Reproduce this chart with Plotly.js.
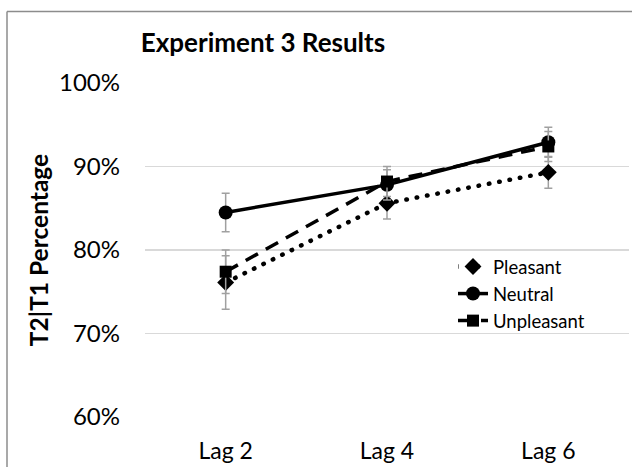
<!DOCTYPE html>
<html>
<head>
<meta charset="utf-8">
<script src="https://cdn.plot.ly/plotly-3.0.1.min.js"></script>
<style>
html,body{margin:0;padding:0;background:#fff;}
#chart{width:632px;height:467px;}
.scatterlayer .trace:first-child .js-line{stroke-linecap:round;}
</style>
</head>
<body>
<div id="chart"></div>
<script>
const categories = ["Lag 2", "Lag 4", "Lag 6"];
const seriesNames = ["Pleasant", "Neutral", "Unpleasant"];
const pleasant = [0.761, 0.856, 0.893];
const neutral = [0.845, 0.878, 0.929];
const unpleasant = [0.774, 0.882, 0.924];
const pleasantErr = [0.032, 0.019, 0.019];
const neutralErr = [0.023, 0.018, 0.018];
const unpleasantErr = [0.026, 0.018, 0.018];
const yTicks = [0.6, 0.7, 0.8, 0.9, 1.0];
const yTickLabels = ["60%", "70%", "80%", "90%", "100%"];

const font = "Lato, 'Open Sans', sans-serif";
const errStyle = {type: "data", visible: true, color: "#a0a0a0", thickness: 1.5, width: 4};

const traces = [
  {x: categories, y: pleasant, name: seriesNames[0], mode: "lines+markers",
   line: {color: "#000", width: 4.5, dash: "0.5px,10px"},
   marker: {symbol: "diamond", size: 13, color: "#000"},
   error_y: Object.assign({array: pleasantErr}, errStyle)},
  {x: categories, y: neutral, name: seriesNames[1], mode: "lines+markers",
   line: {color: "#000", width: 3.5},
   marker: {symbol: "circle", size: 14, color: "#000"},
   error_y: Object.assign({array: neutralErr}, errStyle)},
  {x: categories, y: unpleasant, name: seriesNames[2], mode: "lines+markers",
   line: {color: "#000", width: 3.5, dash: "14px,9px"},
   marker: {symbol: "square", size: 12, color: "#000"},
   error_y: Object.assign({array: unpleasantErr}, errStyle)}
];

const px2x = p => (p - 145) / 484;
const px2y = p => (416.7 - p) / 333.4;

const layout = {
  width: 632, height: 467,
  margin: {l: 145, r: 3, t: 83.3, b: 50.3},
  paper_bgcolor: "#fff", plot_bgcolor: "#fff",
  font: {family: font, color: "#000"},
  title: {text: "<b>Experiment 3 Results</b>", font: {family: font, size: 26, color: "#000"},
          x: 263 / 632, xanchor: "center", y: 1 - 43 / 467, yanchor: "middle"},
  showlegend: true,
  legend: {x: px2x(453), y: px2y(248), xanchor: "left", yanchor: "top",
           font: {family: font, size: 18.5, color: "#000"}, bgcolor: "rgba(0,0,0,0)",
           tracegroupgap: 0, itemwidth: 30},
  xaxis: {type: "category", tickfont: {family: font, size: 23, color: "#000"},
          showgrid: false, zeroline: false, showline: false, ticks: "", ticklen: 0,
          ticklabelstandoff: 18,
          range: [-0.5, 2.5], fixedrange: true},
  yaxis: {range: [0.6, 1.0], tickvals: yTicks, ticktext: yTickLabels,
          tickfont: {family: font, size: 24, color: "#000"},
          showgrid: true, gridcolor: "#d9d9d9", gridwidth: 1.2, zeroline: false,
          showline: false, ticks: "", ticklen: 0, ticklabelstandoff: 24,
          title: {text: "<b>T2|T1 Percentage</b>", font: {family: font, size: 24.5, color: "#000"}, standoff: 3},
          fixedrange: true},
  shapes: [
    {type: "line", xref: "paper", yref: "paper", x0: px2x(7), x1: px2x(640), y0: px2y(12), y1: px2y(12),
     line: {color: "#8c8c8c", width: 1.5}},
    {type: "line", xref: "paper", yref: "paper", x0: px2x(7), x1: px2x(7), y0: px2y(12), y1: px2y(480),
     line: {color: "#8c8c8c", width: 1.5}}
  ]
};

Plotly.newPlot("chart", traces, layout, {displayModeBar: false, staticPlot: true});
</script>
</body>
</html>
